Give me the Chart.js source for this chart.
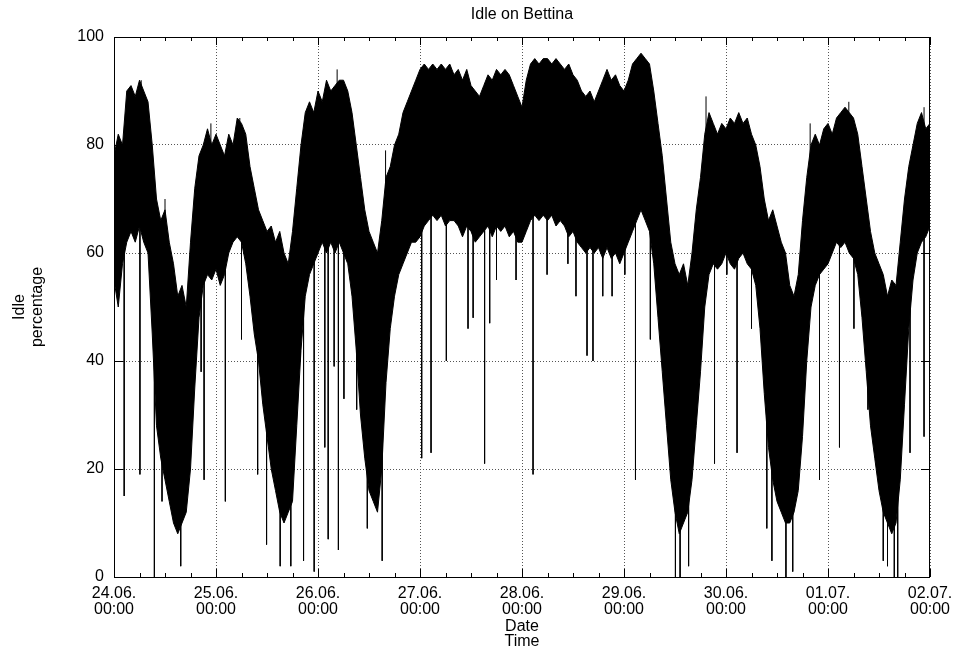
<!DOCTYPE html>
<html>
<head>
<meta charset="utf-8">
<title>Idle on Bettina</title>
<script src="https://cdn.jsdelivr.net/npm/chart.js@4.4.0/dist/chart.umd.min.js"></script>
<style>
    html, body { margin: 0; padding: 0; background: #fff; }
</style>
</head>
<body>
<canvas id="idleChart" width="963" height="661"></canvas>
<script>
// Etiquetas de los días (cada 24 h)
const dayLabels = ['24.06.', '25.06.', '26.06.', '27.06.', '28.06.', '29.06.', '30.06.', '01.07.', '02.07.'];
const timeLabel = '00:00';

// Horas desde 24.06. 00:00, una muestra por hora (cada fila = 1 día)
const hours = [
    0, 1, 2, 3, 4, 5, 6, 7, 8, 9, 10, 11, 12, 13, 14, 15, 16, 17, 18, 19, 20, 21, 22, 23,
    24, 25, 26, 27, 28, 29, 30, 31, 32, 33, 34, 35, 36, 37, 38, 39, 40, 41, 42, 43, 44, 45, 46, 47,
    48, 49, 50, 51, 52, 53, 54, 55, 56, 57, 58, 59, 60, 61, 62, 63, 64, 65, 66, 67, 68, 69, 70, 71,
    72, 73, 74, 75, 76, 77, 78, 79, 80, 81, 82, 83, 84, 85, 86, 87, 88, 89, 90, 91, 92, 93, 94, 95,
    96, 97, 98, 99, 100, 101, 102, 103, 104, 105, 106, 107, 108, 109, 110, 111, 112, 113, 114, 115, 116, 117, 118, 119,
    120, 121, 122, 123, 124, 125, 126, 127, 128, 129, 130, 131, 132, 133, 134, 135, 136, 137, 138, 139, 140, 141, 142, 143,
    144, 145, 146, 147, 148, 149, 150, 151, 152, 153, 154, 155, 156, 157, 158, 159, 160, 161, 162, 163, 164, 165, 166, 167,
    168, 169, 170, 171, 172, 173, 174, 175, 176, 177, 178, 179, 180, 181, 182, 183, 184, 185, 186, 187, 188, 189, 190, 191,
    192
];

// Borde superior de la banda de idle (%)
const idleUpper = [
    78, 82, 80, 90, 91, 89, 92, 90, 88, 80, 70, 66, 68, 62, 58, 52, 54, 50, 62, 72, 78, 80, 83, 80,
    82, 80, 78, 82, 80, 85, 84, 82, 76, 72, 68, 66, 64, 65, 62, 64, 60, 58, 64, 72, 80, 86, 88, 86,
    90, 88, 92, 90, 91, 92, 92, 90, 86, 80, 74, 68, 64, 62, 60, 66, 74, 76, 80, 82, 86, 88, 90, 92,
    94, 95, 94, 95, 94, 95, 94, 95, 93, 94, 92, 94, 91, 90, 89, 91, 93, 92, 94, 93, 94, 93, 91, 89,
    87, 92, 95, 96, 95, 96, 96, 95, 96, 95, 94, 95, 93, 92, 90, 89, 90, 88, 90, 92, 94, 92, 93, 91,
    90, 92, 95, 96, 97, 96, 95, 90, 84, 78, 70, 62, 58, 56, 58, 54, 60, 68, 74, 82, 86, 84, 82, 84,
    83, 85, 84, 86, 84, 85, 82, 80, 76, 70, 66, 68, 65, 62, 60, 54, 52, 56, 66, 74, 80, 82, 80, 83,
    84, 82, 85, 86, 87, 86, 85, 82, 76, 70, 64, 60, 58, 56, 52, 55, 54, 62, 70, 76, 80, 84, 86, 83,
    84
];

// Borde inferior de la banda de idle (%)
const idleLower = [
    55, 50, 58, 62, 64, 62, 65, 62, 60, 45, 28, 22, 18, 14, 10, 8, 10, 12, 20, 35, 48, 54, 56, 55,
    57, 54, 56, 60, 62, 63, 62, 58, 52, 45, 40, 32, 26, 20, 16, 12, 10, 12, 14, 28, 42, 52, 56, 58,
    60, 62, 60, 62, 60, 62, 60, 58, 52, 42, 30, 22, 16, 14, 12, 20, 36, 46, 52, 56, 58, 60, 62, 62,
    63, 65, 66, 67, 66, 67, 65, 66, 66, 65, 63, 65, 64, 62, 63, 64, 65, 63, 65, 64, 65, 63, 64, 62,
    62, 64, 66, 67, 66, 67, 66, 67, 65, 66, 65, 63, 64, 62, 61, 60, 61, 60, 61, 59, 61, 59, 60, 58,
    60, 62, 64, 66, 68, 66, 64, 58, 48, 38, 28, 18, 12, 8, 10, 12, 18, 28, 38, 50, 56, 58, 57, 58,
    60, 58, 57, 59, 60, 58, 57, 54, 46, 34, 24, 18, 14, 12, 10, 10, 12, 16, 26, 40, 50, 54, 56, 57,
    58, 60, 62, 61, 62, 60, 59, 56, 48, 38, 28, 22, 16, 12, 10, 8, 10, 18, 32, 46, 55, 60, 62, 63,
    65
];

// Caídas puntuales por debajo de la banda
const spikeHours = [
    2.4, 6.1, 9.5, 11.3, 15.7, 20.5, 21.2, 26.2, 30.0, 33.8,
    35.9, 39.1, 41.6, 43.8, 44.6, 47.1, 49.6, 50.4, 51.8, 52.8,
    54.1, 57.1, 59.6, 63.1, 72.4, 74.6, 78.2, 83.3, 84.5, 87.2,
    88.4, 90.0, 94.6, 98.6, 101.9, 106.8, 108.7, 111.3, 112.7, 115.0,
    117.2, 120.2, 122.7, 126.2, 132.1, 133.2, 135.2, 141.3, 144.2, 146.6,
    150.0, 153.6, 154.8, 158.1, 159.7, 166.0, 170.7, 174.1, 177.4, 181.0,
    182.0, 183.6, 184.4, 187.3, 190.6
];
const spikeLows = [
    15, 19, 0, 14, 2, 38, 18, 14, 44, 19,
    6, 2, 2, 40, 3, 1, 24, 7, 39, 5,
    33, 31, 9, 3, 22, 23, 40, 46, 48, 21,
    47, 55, 55, 19, 56, 58, 52, 41, 40, 52,
    52, 56, 18, 44, 0, 0, 2, 21, 56, 23,
    46, 9, 3, 0, 1, 18, 24, 46, 31, 3,
    2, 0, 0, 23, 26
];

// Picos puntuales por encima de la banda
const peakHours = [6.4, 12.0, 22.8, 29.6, 52.5, 63.9, 139.3, 163.8, 172.9, 190.6];
const peakHighs = [92, 70, 84, 85, 94, 79, 89, 84, 88, 87];

const yTicks = [0, 20, 40, 60, 80, 100];

const FONT = "'Liberation Sans', Arial, Helvetica, sans-serif";

// Valor de una envolvente en una hora dada (para unir cada pico a la banda)
function envelopeAt(values, h) {
    for (let i = 0; i < hours.length - 1; i++) {
        if (h >= hours[i] && h <= hours[i + 1]) {
            const t = (h - hours[i]) / (hours[i + 1] - hours[i]);
            return values[i] + (values[i + 1] - values[i]) * t;
        }
    }
    return values[values.length - 1];
}

const upperPoints = hours.map((h, i) => ({ x: h, y: idleUpper[i] }));
const lowerPoints = hours.map((h, i) => ({ x: h, y: idleLower[i] }));
const spikePoints = [];
spikeHours.forEach((h, i) => {
    spikePoints.push({ x: h, y: envelopeAt(idleLower, h) + 3 });
    spikePoints.push({ x: h, y: spikeLows[i] });
    spikePoints.push({ x: h, y: null });
});
peakHours.forEach((h, i) => {
    spikePoints.push({ x: h, y: envelopeAt(idleUpper, h) - 3 });
    spikePoints.push({ x: h, y: peakHighs[i] });
    spikePoints.push({ x: h, y: null });
});

// Marco y marcas de escala hacia dentro (estilo gnuplot)
const framePlugin = {
    id: 'frame',
    afterDraw(chart) {
        const { ctx, chartArea: a, scales: { x, y } } = chart;
        ctx.save();
        ctx.strokeStyle = '#000';
        ctx.lineWidth = 1;
        ctx.beginPath();
        for (let h = 0; h <= 192; h += 6) {
            const px = Math.round(x.getPixelForValue(h)) + 0.5;
            const len = h % 24 === 0 ? 8 : 4;
            ctx.moveTo(px, a.bottom);
            ctx.lineTo(px, a.bottom - len);
            ctx.moveTo(px, a.top);
            ctx.lineTo(px, a.top + len);
        }
        yTicks.forEach(v => {
            const py = Math.round(y.getPixelForValue(v)) + 0.5;
            ctx.moveTo(a.left, py);
            ctx.lineTo(a.left + 9, py);
            ctx.moveTo(a.right, py);
            ctx.lineTo(a.right - 9, py);
        });
        ctx.stroke();
        ctx.strokeRect(a.left + 0.5, a.top + 0.5, a.right - a.left - 1, a.bottom - a.top);
        ctx.restore();
    }
};

new Chart(document.getElementById('idleChart'), {
    type: 'line',
    data: {
        datasets: [
            {
                label: 'idle max',
                data: upperPoints,
                borderColor: '#000',
                backgroundColor: '#000',
                borderWidth: 1,
                pointRadius: 0,
                tension: 0,
                fill: '+1'
            },
            {
                label: 'idle min',
                data: lowerPoints,
                borderColor: '#000',
                borderWidth: 1,
                pointRadius: 0,
                tension: 0,
                fill: false
            },
            {
                label: 'picos',
                data: spikePoints,
                borderColor: '#000',
                borderWidth: 1,
                pointRadius: 0,
                spanGaps: false,
                fill: false
            }
        ]
    },
    options: {
        responsive: false,
        animation: false,
        devicePixelRatio: 1,
        layout: {
            padding: { top: 0, right: 33, bottom: 0, left: 0 }
        },
        plugins: {
            legend: { display: false },
            tooltip: { enabled: false },
            title: {
                display: true,
                fullSize: false,
                text: 'Idle on Bettina',
                color: '#000',
                font: { family: FONT, size: 16, weight: 'normal', lineHeight: 1.2 },
                padding: { top: 5, bottom: 12.8 }
            }
        },
        scales: {
            x: {
                type: 'linear',
                min: 0,
                max: 192,
                afterFit: function(scale) {
                    scale.height = 84;
                },
                ticks: {
                    stepSize: 24,
                    autoSkip: false,
                    maxRotation: 0,
                    padding: 9,
                    color: '#000',
                    font: { family: FONT, size: 16, lineHeight: 1.0 },
                    callback: function(value) {
                        return [dayLabels[value / 24], timeLabel];
                    }
                },
                grid: {
                    color: '#555',
                    lineWidth: 1,
                    drawTicks: false
                },
                border: { display: false, dash: [1, 2] },
                title: {
                    display: true,
                    text: ['Date', 'Time'],
                    color: '#000',
                    font: { family: FONT, size: 16, lineHeight: 0.95 },
                    padding: { top: 0, bottom: 12 }
                }
            },
            y: {
                min: 0,
                max: 100,
                afterFit: function(scale) {
                    scale.width = 114;
                },
                ticks: {
                    stepSize: 20,
                    padding: 10,
                    color: '#000',
                    font: { family: FONT, size: 16 }
                },
                grid: {
                    color: '#555',
                    lineWidth: 1,
                    drawTicks: false
                },
                border: { display: false, dash: [1, 2] },
                title: {
                    display: true,
                    text: ['Idle', 'percentage'],
                    color: '#000',
                    font: { family: FONT, size: 16, lineHeight: 1.125 },
                    padding: { top: 11, bottom: 0 }
                }
            }
        }
    },
    plugins: [framePlugin]
});
</script>
</body>
</html>
